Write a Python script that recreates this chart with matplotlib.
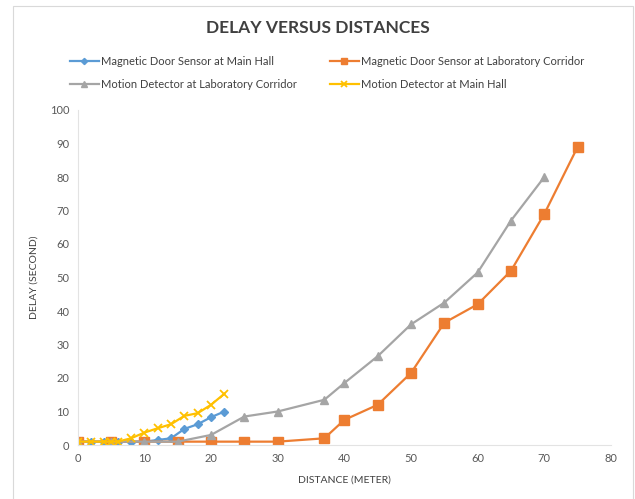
import matplotlib.pyplot as plt
from matplotlib.patches import Rectangle

plt.rcParams["font.family"] = ["Lato", "DejaVu Sans"]

# Magnetic Door Sensor at Main Hall
mh_door_x = [0, 2, 4, 5, 6, 8, 10, 12, 14, 16, 18, 20, 22]
mh_door_y = [1, 1, 1, 1, 1, 1, 1, 1.5, 2, 4.8, 6.2, 8.3, 10]

# Magnetic Door Sensor at Laboratory Corridor
lab_door_x = [0, 5, 10, 15, 20, 25, 30, 37, 40, 45, 50, 55, 60, 65, 70, 75]
lab_door_y = [1, 1, 1, 1, 1, 1, 1, 2, 7.5, 12, 21.5, 36.5, 42, 52, 69, 89]

# Motion Detector at Laboratory Corridor
lab_motion_x = [0, 5, 10, 15, 20, 25, 30, 37, 40, 45, 50, 55, 60, 65, 70]
lab_motion_y = [1, 1, 1, 1, 3, 8.5, 10, 13.5, 18.5, 26.5, 36, 42.5, 51.5, 67, 80]

# Motion Detector at Main Hall
mh_motion_x = [0, 2, 4, 5, 6, 8, 10, 12, 14, 16, 18, 20, 22]
mh_motion_y = [1, 1, 1, 1, 1, 2, 3.7, 5, 6.2, 8.7, 9.5, 12, 15.3]

fig = plt.figure(figsize=(6.35, 4.99), dpi=100)
fig.patches.append(Rectangle((13 / 635, -0.01), 620 / 635, 1 - 6 / 499 + 0.01,
                             transform=fig.transFigure, fill=False,
                             edgecolor="#d9d9d9", lw=0.8))
ax = fig.add_axes([77.7 / 635, 1 - 445 / 499, (611 - 77.7) / 635, (445 - 110) / 499])

l1, = ax.plot(mh_door_x, mh_door_y, color="#5B9BD5", lw=1.6, marker="D", ms=4.5,
              label="Magnetic Door Sensor at Main Hall")
l2, = ax.plot(lab_door_x, lab_door_y, color="#ED7D31", lw=1.6, marker="s", ms=6.5,
              label="Magnetic Door Sensor at Laboratory Corridor")
l3, = ax.plot(lab_motion_x, lab_motion_y, color="#A5A5A5", lw=1.6, marker="^", ms=6,
              label="Motion Detector at Laboratory Corridor")
l4, = ax.plot(mh_motion_x, mh_motion_y, color="#FFC000", lw=1.6, marker="x", ms=6, mew=1.3,
              label="Motion Detector at Main Hall")

ax.set_xlim(0, 80)
ax.set_ylim(0, 100)
ax.set_xticks(range(0, 81, 10))
ax.set_yticks(range(0, 101, 10))
ax.tick_params(length=0, labelsize=8, colors="#595959", pad=6)
for s in ["top", "right"]:
    ax.spines[s].set_visible(False)
for s in ["left", "bottom"]:
    ax.spines[s].set_color("#e3e3e3")
    ax.spines[s].set_linewidth(0.8)
ax.set_xlabel("DISTANCE (METER)", fontsize=7.5, color="#404040", labelpad=8)
ax.set_ylabel("DELAY (SECOND)", fontsize=7.5, color="#404040", labelpad=8)

fig.text(0.5, 1 - 28 / 499, "DELAY VERSUS DISTANCES", ha="center", va="center",
         fontsize=12.5, fontweight="bold", color="#404040")

# column-wise fill, so order gives rows: (l1, l2) then (l3, l4)
handles = [l1, l3, l2, l4]
fig.legend(handles, [h.get_label() for h in handles], loc="center",
           bbox_to_anchor=(0.515, 1 - 73 / 499), ncol=2, frameon=False,
           fontsize=8, handlelength=2.6, columnspacing=3.0, labelspacing=1.05,
           handletextpad=0.2, markerscale=0.7, labelcolor="#404040")

fig.savefig("out.png", dpi=100)
